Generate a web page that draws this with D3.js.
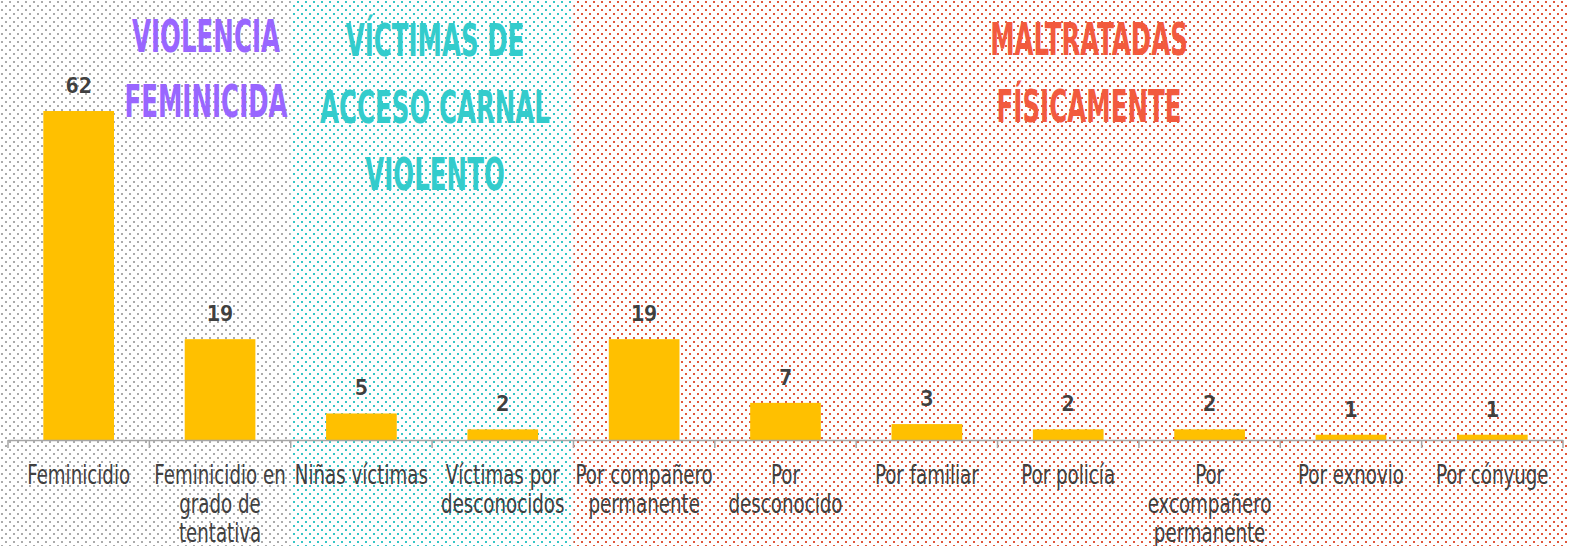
<!DOCTYPE html>
<html>
<head>
<meta charset="utf-8">
<style>
body{ margin:0; background:#ffffff; }
#chart{ display:block; }
.cat{ font-family:"DejaVu Sans Condensed","DejaVu Sans",sans-serif; font-stretch:condensed; font-size:27px; fill:#404040; }
.val{ font-family:"DejaVu Sans Mono",monospace; font-weight:bold; font-size:22px; fill:#404040; }
.ttl{ font-family:"DejaVu Sans Condensed","DejaVu Sans",sans-serif; font-stretch:condensed; font-weight:bold; font-size:44px; }
</style>
</head>
<body>
<svg id="chart"></svg>
<script src="https://d3js.org/d3.v7.min.js"></script>
<script>
var categories = ["Feminicidio", "Feminicidio en grado de tentativa", "Niñas víctimas", "Víctimas por desconocidos",
    "Por compañero permanente", "Por desconocido", "Por familiar", "Por policía",
    "Por excompañero permanente", "Por exnovio", "Por cónyuge"]
var labelLines = [["Feminicidio"], ["Feminicidio en", "grado de", "tentativa"], ["Niñas víctimas"], ["Víctimas por", "desconocidos"],
    ["Por compañero", "permanente"], ["Por", "desconocido"], ["Por familiar"], ["Por policía"],
    ["Por", "excompañero", "permanente"], ["Por exnovio"], ["Por cónyuge"]]
var values = [62, 19, 5, 2, 19, 7, 3, 2, 2, 1, 1]

// groups: first / last category index, title lines
var groupTitles = [["VIOLENCIA", "FEMINICIDA"], ["VÍCTIMAS DE", "ACCESO CARNAL", "VIOLENTO"], ["MALTRATADAS", "FÍSICAMENTE"]]
var groupStart = [0, 2, 4]
var groupEnd = [1, 3, 10]
var groupDot = ["#ababab", "#38c6c6", "#e0583c"]
var groupText = ["#9966ff", "#33cccc", "#f25a3e"]

var W = 1569, H = 546
var baseY = 440

var svg = d3.select("#chart").attr("width", W).attr("height", H)
var defs = svg.append("defs")

groupDot.forEach(function(c, i){
    var p = defs.append("pattern")
        .attr("id", "dots" + i)
        .attr("patternUnits", "userSpaceOnUse")
        .attr("width", 8).attr("height", 8)
    p.append("rect").attr("x", 1).attr("y", 1).attr("width", 2).attr("height", 2).attr("fill", c)
    p.append("rect").attr("x", 5).attr("y", 5).attr("width", 2).attr("height", 2).attr("fill", c)
})

var x = d3.scaleBand()
    .domain(categories)
    .range([8, 1563])
    .paddingInner(0.5)
    .paddingOuter(0.25)

var y = d3.scaleLinear()
    .domain([0, 62])
    .range([baseY, 111])

var step = x.step()
function leftEdge(i){ return x(categories[i]) - step * 0.25 }
function rightEdge(i){ return x(categories[i]) + x.bandwidth() + step * 0.25 }

// background regions
groupTitles.forEach(function(t, i){
    var x0 = i == 0 ? 0 : leftEdge(groupStart[i])
    var x1 = i == groupTitles.length - 1 ? W : rightEdge(groupEnd[i])
    svg.append("rect")
        .attr("x", x0).attr("y", 0)
        .attr("width", x1 - x0).attr("height", H)
        .attr("fill", "url(#dots" + i + ")")
})

// group titles
var titleX = [206, 435, 1089]
var titleY = [[52, 117], [56, 123, 190], [55, 122]]
groupTitles.forEach(function(lines, i){
    lines.forEach(function(s, j){
        svg.append("g")
            .attr("transform", "translate(" + titleX[i] + "," + titleY[i][j] + ") scale(0.62,1)")
            .append("text")
            .attr("class", "ttl")
            .attr("text-anchor", "middle")
            .attr("fill", groupText[i])
            .text(s)
    })
})

// bars
svg.selectAll("rect.bar")
    .data(values)
    .enter()
    .append("rect")
    .attr("class", "bar")
    .attr("x", function(d, i){ return x(categories[i]) })
    .attr("y", function(d){ return y(d) })
    .attr("width", x.bandwidth())
    .attr("height", function(d){ return baseY - y(d) })
    .attr("fill", "#ffc000")

svg.selectAll("text.val")
    .data(values)
    .enter()
    .append("text")
    .attr("class", "val")
    .attr("text-anchor", "middle")
    .attr("x", function(d, i){ return x(categories[i]) + x.bandwidth() / 2 })
    .attr("y", function(d){ return y(d) - 18 })
    .text(function(d){ return d })

// axis
var edges = categories.map(function(c, i){ return leftEdge(i) })
edges.push(rightEdge(categories.length - 1))
svg.append("line")
    .attr("x1", edges[0]).attr("x2", edges[edges.length - 1])
    .attr("y1", baseY + 0.5).attr("y2", baseY + 0.5)
    .attr("stroke", "#a6a6a6").attr("stroke-width", 1.5)
svg.selectAll("line.tick")
    .data(edges)
    .enter()
    .append("line")
    .attr("class", "tick")
    .attr("x1", function(d){ return d }).attr("x2", function(d){ return d })
    .attr("y1", baseY).attr("y2", baseY + 8)
    .attr("stroke", "#a6a6a6").attr("stroke-width", 1.5)

// category labels
labelLines.forEach(function(lines, i){
    var cx = x(categories[i]) + x.bandwidth() / 2
    lines.forEach(function(s, j){
        svg.append("g")
            .attr("transform", "translate(" + cx + "," + (484 + j * 29) + ") scale(0.75,1)")
            .append("text")
            .attr("class", "cat")
            .attr("text-anchor", "middle")
            .text(s)
    })
})
</script>
</body>
</html>
